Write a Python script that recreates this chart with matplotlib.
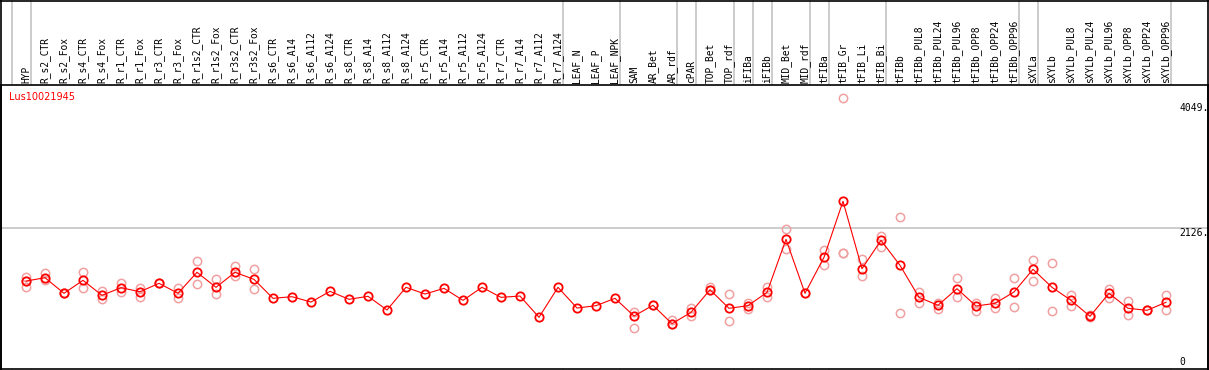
import numpy as np
import matplotlib
matplotlib.use("Agg")
import matplotlib.pyplot as plt
from matplotlib.lines import Line2D
from matplotlib.transforms import blended_transform_factory

# sample names (one column each)
samples = ["HYP", "R_s2_CTR", "R_s2_Fox", "R_s4_CTR", "R_s4_Fox", "R_r1_CTR", "R_r1_Fox",
           "R_r3_CTR", "R_r3_Fox", "R_r1s2_CTR", "R_r1s2_Fox", "R_r3s2_CTR", "R_r3s2_Fox",
           "R_s6_CTR", "R_s6_A14", "R_s6_A112", "R_s6_A124", "R_s8_CTR", "R_s8_A14",
           "R_s8_A112", "R_s8_A124", "R_r5_CTR", "R_r5_A14", "R_r5_A112", "R_r5_A124",
           "R_r7_CTR", "R_r7_A14", "R_r7_A112", "R_r7_A124", "LEAF_N", "LEAF_P", "LEAF_NPK",
           "SAM", "AR_Bet", "AR_rdf", "cPAR", "TOP_Bet", "TOP_rdf", "iFIBa", "iFIBb",
           "MID_Bet", "MID_rdf", "tFIBa", "tFIB_Gr", "tFIB_Li", "tFIB_Bi", "tFIBb",
           "tFIBb_PUL8", "tFIBb_PUL24", "tFIBb_PUL96", "tFIBb_OPP8", "tFIBb_OPP24",
           "tFIBb_OPP96", "sXYLa", "sXYLb", "sXYLb_PUL8", "sXYLb_PUL24", "sXYLb_PUL96",
           "sXYLb_OPP8", "sXYLb_OPP24", "sXYLb_OPP96"]

# mean expression per sample
means = [1317, 1368, 1129, 1328, 1098, 1215, 1153, 1282, 1129, 1451, 1221, 1451, 1343,
         1052, 1077, 995, 1159, 1037, 1083, 873, 1221, 1118, 1205, 1021, 1221, 1067, 1087,
         761, 1221, 903, 939, 1052, 781, 945, 663, 837, 1184, 899, 939, 1144, 1957, 1129,
         1681, 2540, 1506, 1942, 1558, 1067, 945, 1200, 934, 975, 1149, 1497, 1221, 1021,
         776, 1129, 899, 868, 991]

# replicate values per sample
replicates = [[1374, 1230, 1317], [1435, 1333], [1129, 1140], [1451, 1205], [1164, 1037],
              [1292, 1149], [1215, 1067], [1282, 1290], [1205, 1052], [1620, 1267],
              [1343, 1113], [1548, 1394], [1497, 1190],
              [], [], [], [], [], [], [], [], [], [], [], [], [], [], [], [], [], [], [],
              [847, 592], [945], [719, 663], [908, 781], [1230, 1184], [1118, 699],
              [985, 883], [1221, 1072], [2110, 1804], [1129], [1788, 1567],
              [4120, 1752, 1740], [1650, 1390], [2008, 1844], [2294, 822],
              [1149, 985], [985, 883], [1359, 1067], [985, 862], [1052, 899], [1359, 923],
              [1635, 1313], [1594, 857], [1103, 939], [760, 790], [1195, 1052],
              [1011, 791], [868, 875], [1103, 878]]

# columns after which a grey separator is drawn
separators = [-1, 0, 28, 31, 34, 35, 37, 38, 39, 41, 42, 45, 52, 53, 60]

gene = "Lus10021945"
ytick_vals = [4049, 2126, 0]

W, H = 1209, 370
fig = plt.figure(figsize=(W / 100, H / 100), dpi=100)

# plot region: x 1..1208 px, y 85..369 px (from top)
ax = fig.add_axes([1 / W, 1 / H, 1207 / W, 284 / H])
x = np.arange(len(samples))
ax.set_xlim((1 - 26) / 19, (1208 - 26) / 19)
ax.set_ylim(-32, 4324)
ax.set_xticks([])
ax.set_yticks([])
for s in ax.spines.values():
    s.set_color("black")
    s.set_linewidth(1.2)

grey = "#c4c4c4"
ax.axhline(2126, color=grey, lw=1.2, zorder=0)

bt = blended_transform_factory(ax.transData, fig.transFigure)
for c in separators:
    fig.add_artist(Line2D([c + 0.24, c + 0.24], [0, 1], transform=bt, color=grey, lw=1.2, zorder=0))

# outer border of the header part
fig.add_artist(Line2D([1 / W, 1 / W], [0, 1], transform=fig.transFigure, color="black", lw=1.2))
fig.add_artist(Line2D([1208 / W, 1208 / W], [0, 1], transform=fig.transFigure, color="black", lw=1.2))
fig.add_artist(Line2D([0, 1], [1 - 0.6 / H, 1 - 0.6 / H], transform=fig.transFigure, color="black", lw=1.2))

# replicate circles
for i, reps in enumerate(replicates):
    if reps:
        ax.plot([i] * len(reps), reps, "o", mfc="none", mec="#f0a0a0", ms=6, mew=1.1,
                linestyle="none", zorder=2)

ax.plot(x, means, "-", color="red", lw=0.8, zorder=3)
ax.plot(x, means, "o", mfc="none", mec="red", ms=6, mew=1.3, zorder=4)

# sample labels in the header
for i, name in enumerate(samples):
    fig.text(0, 0, name, transform=bt, family="DejaVu Sans Mono", fontsize=6.9,
             rotation=90, ha="center", va="bottom")
    fig.texts[-1].set_position((i, 1 - 83 / H))

ax.text(8 / 1207, 1 - 12 / 284, gene, transform=ax.transAxes, color="red",
        fontsize=7, ha="left", va="center")

# value labels on the right
lt = blended_transform_factory(fig.transFigure, ax.transData)
for v in ytick_vals:
    lab = "0" if v == 0 else f"{v}."
    ax.text(1179 / W, v, lab, transform=lt, family="DejaVu Sans Mono", fontsize=7,
            ha="left", va="bottom" if v == 0 else "top")

fig.savefig("out.png", dpi=100)
